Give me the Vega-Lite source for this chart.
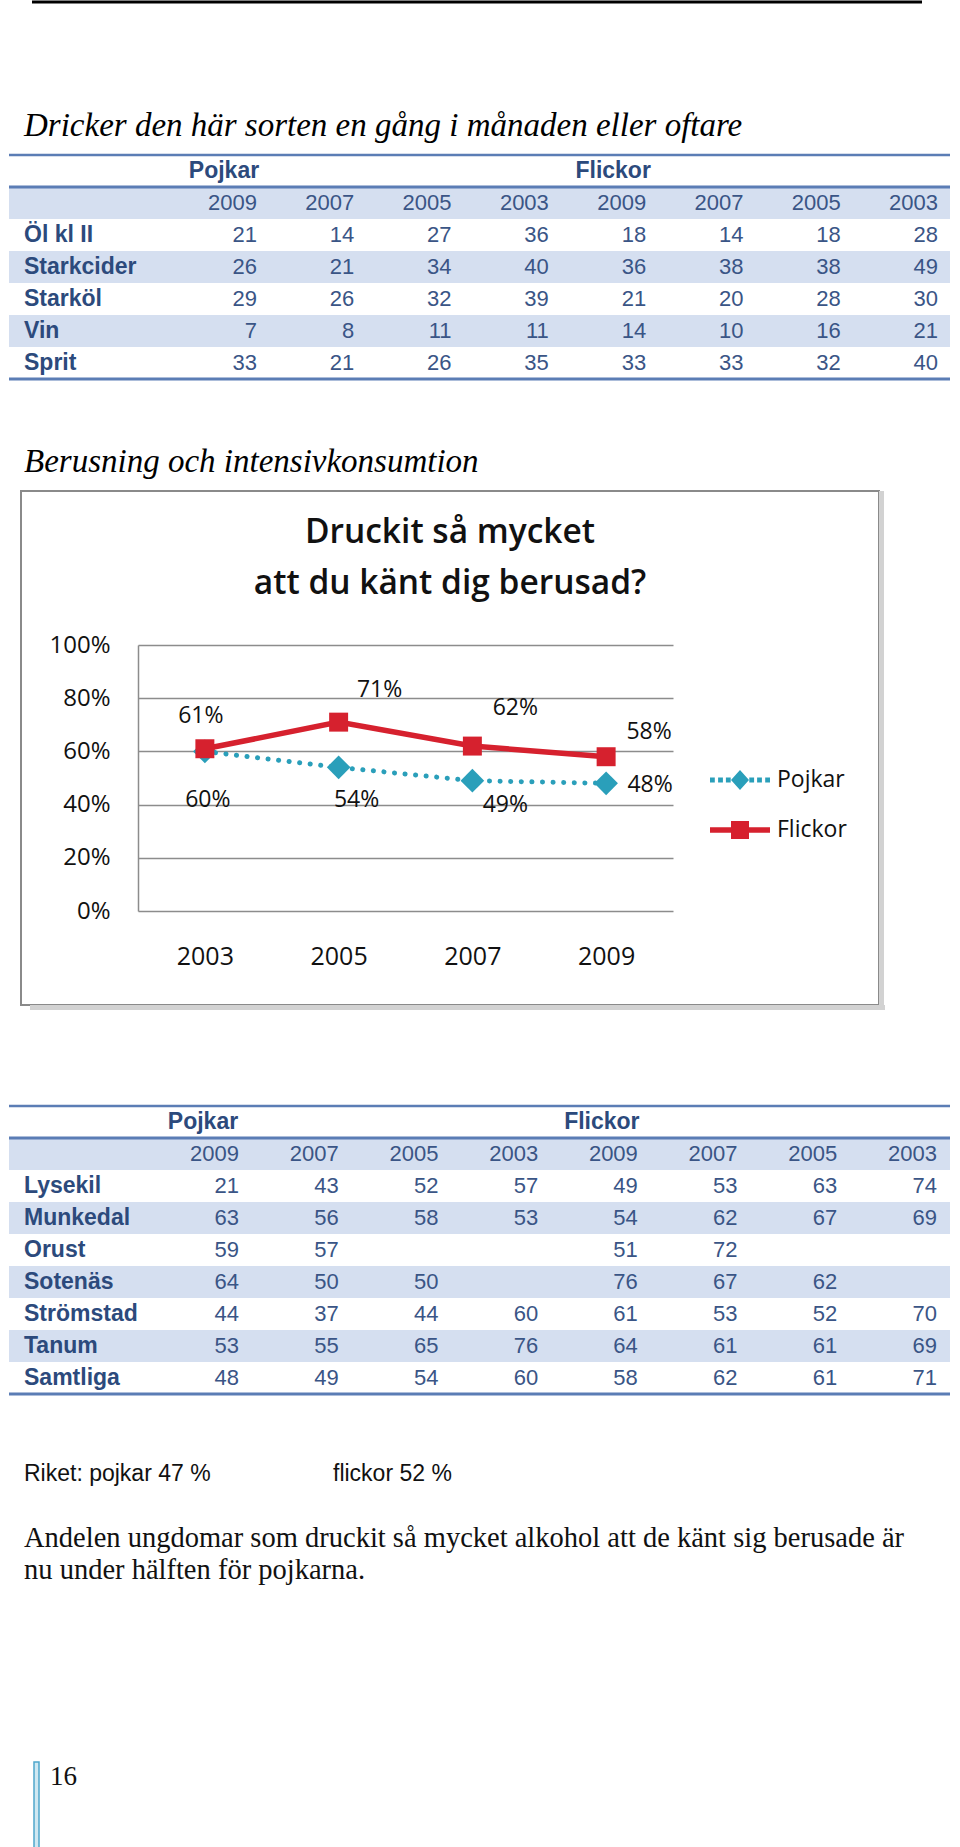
{
  "$schema": "https://vega.github.io/schema/vega-lite/v6.json",
  "background": "white",
  "padding": 0,
  "spacing": 0,
  "bounds": "flush",
  "columns": 2,
  "align": "each",
  "resolve": {"scale": {"color": "independent", "shape": "independent"}, "legend": {"color": "independent", "shape": "independent"}},
  "config": {"view": {"stroke": null}},
  "datasets": {
    "t1": [
      {"row": "Öl kl II", "P2009": 21, "P2007": 14, "P2005": 27, "P2003": 36, "F2009": 18, "F2007": 14, "F2005": 18, "F2003": 28},
      {"row": "Starkcider", "P2009": 26, "P2007": 21, "P2005": 34, "P2003": 40, "F2009": 36, "F2007": 38, "F2005": 38, "F2003": 49},
      {"row": "Starköl", "P2009": 29, "P2007": 26, "P2005": 32, "P2003": 39, "F2009": 21, "F2007": 20, "F2005": 28, "F2003": 30},
      {"row": "Vin", "P2009": 7, "P2007": 8, "P2005": 11, "P2003": 11, "F2009": 14, "F2007": 10, "F2005": 16, "F2003": 21},
      {"row": "Sprit", "P2009": 33, "P2007": 21, "P2005": 26, "P2003": 35, "F2009": 33, "F2007": 33, "F2005": 32, "F2003": 40}
    ],
    "t2": [
      {"row": "Lysekil", "P2009": 21, "P2007": 43, "P2005": 52, "P2003": 57, "F2009": 49, "F2007": 53, "F2005": 63, "F2003": 74},
      {"row": "Munkedal", "P2009": 63, "P2007": 56, "P2005": 58, "P2003": 53, "F2009": 54, "F2007": 62, "F2005": 67, "F2003": 69},
      {"row": "Orust", "P2009": 59, "P2007": 57, "F2009": 51, "F2007": 72},
      {"row": "Sotenäs", "P2009": 64, "P2007": 50, "P2005": 50, "F2009": 76, "F2007": 67, "F2005": 62},
      {"row": "Strömstad", "P2009": 44, "P2007": 37, "P2005": 44, "P2003": 60, "F2009": 61, "F2007": 53, "F2005": 52, "F2003": 70},
      {"row": "Tanum", "P2009": 53, "P2007": 55, "P2005": 65, "P2003": 76, "F2009": 64, "F2007": 61, "F2005": 61, "F2003": 69},
      {"row": "Samtliga", "P2009": 48, "P2007": 49, "P2005": 54, "P2003": 60, "F2009": 58, "F2007": 62, "F2005": 61, "F2003": 71}
    ],
    "cols": [
      {"col": "P2009", "yr": "2009", "grp": "Pojkar"},
      {"col": "P2007", "yr": "2007", "grp": "Pojkar"},
      {"col": "P2005", "yr": "2005", "grp": "Pojkar"},
      {"col": "P2003", "yr": "2003", "grp": "Pojkar"},
      {"col": "F2009", "yr": "2009", "grp": "Flickor"},
      {"col": "F2007", "yr": "2007", "grp": "Flickor"},
      {"col": "F2005", "yr": "2005", "grp": "Flickor"},
      {"col": "F2003", "yr": "2003", "grp": "Flickor"}
    ],
    "berusad": [
      {"year": 2003, "series": "Pojkar", "value": 0.60},
      {"year": 2005, "series": "Pojkar", "value": 0.54},
      {"year": 2007, "series": "Pojkar", "value": 0.49},
      {"year": 2009, "series": "Pojkar", "value": 0.48},
      {"year": 2003, "series": "Flickor", "value": 0.61},
      {"year": 2005, "series": "Flickor", "value": 0.71},
      {"year": 2007, "series": "Flickor", "value": 0.62},
      {"year": 2009, "series": "Flickor", "value": 0.58}
    ],
    "texts": [
      {"line": "riket", "c": "a", "t": "Riket: pojkar 47 %", "kind": "sans"},
      {"line": "riket", "c": "b", "t": "flickor 52 %", "kind": "sans"},
      {"line": "p1", "c": "a", "t": "Andelen ungdomar som druckit så mycket alkohol att de känt sig berusade är", "kind": "serif"},
      {"line": "p2", "c": "a", "t": "nu under hälften för pojkarna.", "kind": "serif"}
    ]
  },
  "concat": [
    {"width": 9, "height": 1, "data": {"values": []}, "mark": "point"},
    {
      "width": 941, "height": 153,
      "view": {"stroke": "#000000", "strokeWidth": 3, "strokeDash": [0, 23, 890, 6000]},
      "data": {"values": []},
      "mark": "point"
    },
    {"width": 9, "height": 1, "data": {"values": []}, "mark": "point"},
    {
      "width": 941, "height": 224,
      "title": {"text": "Dricker den här sorten en gång i månaden eller oftare", "anchor": "start", "frame": "group", "orient": "top", "offset": -15, "baseline": "alphabetic", "dx": 15, "font": "Liberation Serif", "fontStyle": "italic", "fontWeight": "normal", "fontSize": 33, "color": "#000000"},
      "layer": [
        {
          "data": {"values": [{}]},
          "mark": {"type": "rect", "color": "#d5dff0"},
          "encoding": {"y": {"datum": "yr", "type": "nominal", "scale": {"type": "band", "domain": ["h1", "yr", "Öl kl II", "Starkcider", "Starköl", "Vin", "Sprit"], "paddingInner": 0, "paddingOuter": 0}, "axis": null}}
        },
        {
          "data": {"name": "t1"},
          "transform": [{"filter": "datum.row == 'Starkcider' || datum.row == 'Vin'"}],
          "mark": {"type": "rect", "color": "#d5dff0"},
          "encoding": {"y": {"field": "row", "type": "nominal", "axis": null}}
        },
        {
          "data": {"values": [{}]},
          "mark": {"type": "rule", "color": "#5b7db5", "strokeWidth": 2.5},
          "encoding": {"y": {"datum": "h1", "type": "nominal", "bandPosition": 0, "axis": null}}
        },
        {
          "data": {"values": [{}]},
          "mark": {"type": "rule", "color": "#5b7db5", "strokeWidth": 3},
          "encoding": {"y": {"datum": "yr", "type": "nominal", "bandPosition": 0, "axis": null}}
        },
        {
          "data": {"values": [{}]},
          "mark": {"type": "rule", "color": "#5b7db5", "strokeWidth": 3},
          "encoding": {"y": {"datum": "Sprit", "type": "nominal", "bandPosition": 1, "axis": null}}
        },
        {
          "data": {"name": "cols"},
          "mark": {"type": "text", "align": "right", "font": "Liberation Sans", "fontSize": 22, "color": "#3a5586"},
          "encoding": {
            "x": {"field": "col", "type": "nominal", "scale": {"type": "point", "domain": ["P2009", "P2007", "P2005", "P2003", "F2009", "F2007", "F2005", "F2003"], "range": [248, 929], "padding": 0}, "axis": null},
            "y": {"datum": "yr", "type": "nominal", "axis": null},
            "text": {"field": "yr", "type": "nominal"}
          }
        },
        {
          "data": {"name": "cols"},
          "transform": [{"filter": "datum.col == 'P2009' || datum.col == 'F2009'"}],
          "mark": {"type": "text", "align": "center", "dx": -33, "font": "Liberation Sans", "fontWeight": "bold", "fontSize": 23, "color": "#2c4a7c"},
          "encoding": {
            "x": {"field": "col", "type": "nominal", "axis": null},
            "y": {"datum": "h1", "type": "nominal", "axis": null},
            "text": {"field": "grp", "type": "nominal"}
          }
        },
        {
          "data": {"name": "t1"},
          "mark": {"type": "text", "align": "left", "dx": -233, "font": "Liberation Sans", "fontWeight": "bold", "fontSize": 23, "color": "#2c4a7c"},
          "encoding": {
            "x": {"datum": "P2009", "type": "nominal", "axis": null},
            "y": {"field": "row", "type": "nominal", "axis": null},
            "text": {"field": "row", "type": "nominal"}
          }
        },
        {
          "data": {"name": "t1"},
          "transform": [{"fold": ["P2009", "P2007", "P2005", "P2003", "F2009", "F2007", "F2005", "F2003"], "as": ["col", "v"]}, {"filter": "isValid(datum.v)"}],
          "mark": {"type": "text", "align": "right", "font": "Liberation Sans", "fontSize": 22, "color": "#3a5586"},
          "encoding": {
            "x": {"field": "col", "type": "nominal", "axis": null},
            "y": {"field": "row", "type": "nominal", "axis": null},
            "text": {"field": "v", "type": "quantitative"}
          }
        }
      ]
    },
    {"width": 9, "height": 1, "data": {"values": []}, "mark": "point"},
    {"width": 941, "height": 112, "data": {"values": []}, "mark": "point"},
    {
      "width": 9, "height": 514, "data": {"values": []}, "mark": "point",
      "title": {"text": "Berusning och intensivkonsumtion", "anchor": "start", "frame": "group", "orient": "top", "offset": -14, "baseline": "alphabetic", "dx": 24, "font": "Liberation Serif", "fontStyle": "italic", "fontWeight": "normal", "fontSize": 33, "color": "#000000"}
    },
    {
      "spacing": 0,
      "bounds": "flush",
      "resolve": {"scale": {"color": "independent", "shape": "independent"}, "legend": {"color": "independent", "shape": "independent"}},
      "hconcat": [
        {"width": 12, "height": 514, "data": {"values": []}, "mark": "point"},
        {
          "width": 858, "height": 514,
          "view": {"stroke": "#8a8a8a", "strokeWidth": 2, "fill": "white"},
          "title": {"text": ["Druckit så mycket", "att du känt dig berusad?"], "anchor": "middle", "frame": "group", "orient": "top", "offset": -110, "baseline": "top", "lineHeight": 51, "font": "Open Sans", "fontSize": 33.5, "fontWeight": 600, "color": "#111111"},
          "data": {"name": "berusad"},
          "layer": [
            {
              "transform": [{"filter": "datum.series == 'Pojkar'"}],
              "mark": {"type": "line", "color": "#2a9fba", "strokeWidth": 5, "strokeDash": [0.1, 10.5], "strokeCap": "round"},
              "encoding": {
                "x": {"field": "year", "type": "quantitative", "scale": {"domain": [2002, 2010], "range": [117, 652]}, "axis": {"values": [2003, 2005, 2007, 2009], "format": "d", "offset": -94, "domain": false, "ticks": false, "grid": false, "labelFont": "Open Sans", "labelFontSize": 25, "labelColor": "#111111", "labelPadding": 33, "title": null}},
                "y": {"field": "value", "type": "quantitative", "scale": {"domain": [0, 1], "range": [420, 154]}, "axis": {"values": [0, 0.2, 0.4, 0.6, 0.8, 1], "format": ".0%", "offset": -117, "domain": true, "domainColor": "#8c8c8c", "domainWidth": 1.5, "ticks": false, "grid": true, "gridColor": "#8c8c8c", "gridWidth": 1.5, "labelFont": "Open Sans", "labelFontSize": 24, "labelColor": "#111111", "labelPadding": 28, "title": null}}
              }
            },
            {
              "transform": [{"filter": "datum.series == 'Pojkar'"}],
              "mark": {"type": "point", "shape": "diamond", "filled": true, "size": 560, "color": "#2a9fba", "opacity": 1},
              "encoding": {"x": {"field": "year", "type": "quantitative"}, "y": {"field": "value", "type": "quantitative"}}
            },
            {
              "transform": [{"filter": "datum.series == 'Flickor'"}],
              "mark": {"type": "line", "color": "#d6212e", "strokeWidth": 5.5},
              "encoding": {"x": {"field": "year", "type": "quantitative"}, "y": {"field": "value", "type": "quantitative"}}
            },
            {
              "transform": [{"filter": "datum.series == 'Flickor'"}],
              "mark": {"type": "point", "shape": "square", "filled": true, "size": 360, "color": "#d6212e", "opacity": 1},
              "encoding": {"x": {"field": "year", "type": "quantitative"}, "y": {"field": "value", "type": "quantitative"}}
            },
            {
              "mark": {"type": "point", "filled": true, "size": 0},
              "encoding": {
                "x": {"field": "year", "type": "quantitative"},
                "y": {"field": "value", "type": "quantitative"},
                "color": {"field": "series", "type": "nominal", "scale": {"domain": ["Pojkar", "Flickor"], "range": ["#2a9fba", "#d6212e"]}, "legend": {"title": null, "orient": "none", "legendX": 689, "legendY": 259, "direction": "vertical", "symbolSize": 3600, "symbolStrokeWidth": 0, "symbolOpacity": 1, "labelFont": "Open Sans", "labelFontSize": 23, "labelColor": "#111111", "labelOffset": 7, "rowPadding": 8, "padding": 0}},
                "shape": {"field": "series", "type": "nominal", "scale": {"domain": ["Pojkar", "Flickor"], "range": ["M-1,-0.08h0.16v0.16h-0.16Z M-0.73,-0.08h0.16v0.16h-0.16Z M-0.47,-0.08h0.16v0.16h-0.16Z M0,-0.33L0.3,0L0,0.33L-0.3,0Z M0.31,-0.08h0.16v0.16h-0.16Z M0.57,-0.08h0.16v0.16h-0.16Z M0.84,-0.08h0.16v0.16h-0.16Z", "M-1,-0.09H1V0.09H-1Z M-0.3,-0.3H0.3V0.3H-0.3Z"]}, "legend": {"title": null, "orient": "none", "legendX": 689, "legendY": 259, "direction": "vertical", "symbolSize": 3600, "symbolStrokeWidth": 0, "symbolOpacity": 1, "labelFont": "Open Sans", "labelFontSize": 23, "labelColor": "#111111", "labelOffset": 7, "rowPadding": 8, "padding": 0}}
              }
            },
            {
              "transform": [{"filter": "datum.series == 'Flickor' && datum.year == 2003"}],
              "mark": {"type": "text", "dx": -4, "dy": -33, "font": "Open Sans", "fontSize": 23, "color": "#111111"},
              "encoding": {"x": {"field": "year", "type": "quantitative"}, "y": {"field": "value", "type": "quantitative"}, "text": {"field": "value", "type": "quantitative", "format": ".0%"}}
            },
            {
              "transform": [{"filter": "datum.series == 'Flickor' && datum.year == 2005"}],
              "mark": {"type": "text", "dx": 41, "dy": -32, "font": "Open Sans", "fontSize": 23, "color": "#111111"},
              "encoding": {"x": {"field": "year", "type": "quantitative"}, "y": {"field": "value", "type": "quantitative"}, "text": {"field": "value", "type": "quantitative", "format": ".0%"}}
            },
            {
              "transform": [{"filter": "datum.series == 'Flickor' && datum.year == 2007"}],
              "mark": {"type": "text", "dx": 43, "dy": -38, "font": "Open Sans", "fontSize": 23, "color": "#111111"},
              "encoding": {"x": {"field": "year", "type": "quantitative"}, "y": {"field": "value", "type": "quantitative"}, "text": {"field": "value", "type": "quantitative", "format": ".0%"}}
            },
            {
              "transform": [{"filter": "datum.series == 'Flickor' && datum.year == 2009"}],
              "mark": {"type": "text", "dx": 43, "dy": -25, "font": "Open Sans", "fontSize": 23, "color": "#111111"},
              "encoding": {"x": {"field": "year", "type": "quantitative"}, "y": {"field": "value", "type": "quantitative"}, "text": {"field": "value", "type": "quantitative", "format": ".0%"}}
            },
            {
              "transform": [{"filter": "datum.series == 'Pojkar' && datum.year == 2003"}],
              "mark": {"type": "text", "dx": 3, "dy": 49, "font": "Open Sans", "fontSize": 23, "color": "#111111"},
              "encoding": {"x": {"field": "year", "type": "quantitative"}, "y": {"field": "value", "type": "quantitative"}, "text": {"field": "value", "type": "quantitative", "format": ".0%"}}
            },
            {
              "transform": [{"filter": "datum.series == 'Pojkar' && datum.year == 2005"}],
              "mark": {"type": "text", "dx": 18, "dy": 33, "font": "Open Sans", "fontSize": 23, "color": "#111111"},
              "encoding": {"x": {"field": "year", "type": "quantitative"}, "y": {"field": "value", "type": "quantitative"}, "text": {"field": "value", "type": "quantitative", "format": ".0%"}}
            },
            {
              "transform": [{"filter": "datum.series == 'Pojkar' && datum.year == 2007"}],
              "mark": {"type": "text", "dx": 33, "dy": 24, "font": "Open Sans", "fontSize": 23, "color": "#111111"},
              "encoding": {"x": {"field": "year", "type": "quantitative"}, "y": {"field": "value", "type": "quantitative"}, "text": {"field": "value", "type": "quantitative", "format": ".0%"}}
            },
            {
              "transform": [{"filter": "datum.series == 'Pojkar' && datum.year == 2009"}],
              "mark": {"type": "text", "dx": 44, "dy": 2, "font": "Open Sans", "fontSize": 23, "color": "#111111"},
              "encoding": {"x": {"field": "year", "type": "quantitative"}, "y": {"field": "value", "type": "quantitative"}, "text": {"field": "value", "type": "quantitative", "format": ".0%"}}
            }
          ]
        },
        {"width": 5, "height": 514, "view": {"fill": "#d2d2d2"}, "data": {"values": []}, "mark": "point"}
      ]
    },
    {"width": 9, "height": 5, "data": {"values": []}, "mark": "point"},
    {
      "spacing": 0,
      "bounds": "flush",
      "hconcat": [
        {"width": 21, "height": 5, "data": {"values": []}, "mark": "point"},
        {"width": 855, "height": 5, "view": {"fill": "#d2d2d2"}, "data": {"values": []}, "mark": "point"}
      ]
    },
    {"width": 9, "height": 1, "data": {"values": []}, "mark": "point"},
    {"width": 941, "height": 96, "data": {"values": []}, "mark": "point"},
    {"width": 9, "height": 1, "data": {"values": []}, "mark": "point"},
    {
      "width": 941, "height": 288,
      "layer": [
        {
          "data": {"values": [{}]},
          "mark": {"type": "rect", "color": "#d5dff0"},
          "encoding": {"y": {"datum": "yr", "type": "nominal", "scale": {"type": "band", "domain": ["h1", "yr", "Lysekil", "Munkedal", "Orust", "Sotenäs", "Strömstad", "Tanum", "Samtliga"], "paddingInner": 0, "paddingOuter": 0}, "axis": null}}
        },
        {
          "data": {"name": "t2"},
          "transform": [{"filter": "datum.row == 'Munkedal' || datum.row == 'Sotenäs' || datum.row == 'Tanum'"}],
          "mark": {"type": "rect", "color": "#d5dff0"},
          "encoding": {"y": {"field": "row", "type": "nominal", "axis": null}}
        },
        {
          "data": {"values": [{}]},
          "mark": {"type": "rule", "color": "#5b7db5", "strokeWidth": 2.5},
          "encoding": {"y": {"datum": "h1", "type": "nominal", "bandPosition": 0, "axis": null}}
        },
        {
          "data": {"values": [{}]},
          "mark": {"type": "rule", "color": "#5b7db5", "strokeWidth": 3},
          "encoding": {"y": {"datum": "yr", "type": "nominal", "bandPosition": 0, "axis": null}}
        },
        {
          "data": {"values": [{}]},
          "mark": {"type": "rule", "color": "#5b7db5", "strokeWidth": 3},
          "encoding": {"y": {"datum": "Samtliga", "type": "nominal", "bandPosition": 1, "axis": null}}
        },
        {
          "data": {"name": "cols"},
          "mark": {"type": "text", "align": "right", "font": "Liberation Sans", "fontSize": 22, "color": "#3a5586"},
          "encoding": {
            "x": {"field": "col", "type": "nominal", "scale": {"type": "point", "domain": ["P2009", "P2007", "P2005", "P2003", "F2009", "F2007", "F2005", "F2003"], "range": [230, 928], "padding": 0}, "axis": null},
            "y": {"datum": "yr", "type": "nominal", "axis": null},
            "text": {"field": "yr", "type": "nominal"}
          }
        },
        {
          "data": {"name": "cols"},
          "transform": [{"filter": "datum.col == 'P2009' || datum.col == 'F2009'"}],
          "mark": {"type": "text", "align": "center", "dx": -36, "font": "Liberation Sans", "fontWeight": "bold", "fontSize": 23, "color": "#2c4a7c"},
          "encoding": {
            "x": {"field": "col", "type": "nominal", "axis": null},
            "y": {"datum": "h1", "type": "nominal", "axis": null},
            "text": {"field": "grp", "type": "nominal"}
          }
        },
        {
          "data": {"name": "t2"},
          "mark": {"type": "text", "align": "left", "dx": -215, "font": "Liberation Sans", "fontWeight": "bold", "fontSize": 23, "color": "#2c4a7c"},
          "encoding": {
            "x": {"datum": "P2009", "type": "nominal", "axis": null},
            "y": {"field": "row", "type": "nominal", "axis": null},
            "text": {"field": "row", "type": "nominal"}
          }
        },
        {
          "data": {"name": "t2"},
          "transform": [{"fold": ["P2009", "P2007", "P2005", "P2003", "F2009", "F2007", "F2005", "F2003"], "as": ["col", "v"]}, {"filter": "isValid(datum.v)"}],
          "mark": {"type": "text", "align": "right", "font": "Liberation Sans", "fontSize": 22, "color": "#3a5586"},
          "encoding": {
            "x": {"field": "col", "type": "nominal", "axis": null},
            "y": {"field": "row", "type": "nominal", "axis": null},
            "text": {"field": "v", "type": "quantitative"}
          }
        }
      ]
    },
    {"width": 9, "height": 1, "data": {"values": []}, "mark": "point"},
    {"width": 941, "height": 64, "data": {"values": []}, "mark": "point"},
    {"width": 9, "height": 1, "data": {"values": []}, "mark": "point"},
    {
      "width": 941, "height": 128,
      "data": {"name": "texts"},
      "layer": [
        {
          "transform": [{"filter": "datum.kind == 'sans'"}],
          "mark": {"type": "text", "align": "left", "font": "Liberation Sans", "fontSize": 23, "color": "#111111"},
          "encoding": {
            "x": {"field": "c", "type": "nominal", "scale": {"type": "point", "domain": ["a", "b"], "range": [15, 324], "padding": 0}, "axis": null},
            "y": {"field": "line", "type": "nominal", "scale": {"type": "band", "domain": ["riket", "blank", "p1", "p2"], "paddingInner": 0, "paddingOuter": 0}, "axis": null},
            "text": {"field": "t", "type": "nominal"}
          }
        },
        {
          "transform": [{"filter": "datum.kind == 'serif'"}],
          "mark": {"type": "text", "align": "left", "font": "Liberation Serif", "fontSize": 28.5, "color": "#111111"},
          "encoding": {
            "x": {"field": "c", "type": "nominal", "axis": null},
            "y": {"field": "line", "type": "nominal", "axis": null},
            "text": {"field": "t", "type": "nominal"}
          }
        }
      ]
    },
    {"width": 9, "height": 1, "data": {"values": []}, "mark": "point"},
    {"width": 941, "height": 176, "data": {"values": []}, "mark": "point"},
    {"width": 9, "height": 87, "data": {"values": []}, "mark": "point"},
    {
      "spacing": 0,
      "bounds": "flush",
      "hconcat": [
        {"width": 25, "height": 87, "data": {"values": []}, "mark": "point"},
        {
          "width": 5, "height": 87,
          "view": {"fill": "#cfe8f2", "stroke": "#4fa7cb", "strokeWidth": 1.5},
          "title": {"text": "16", "orient": "right", "anchor": "start", "frame": "group", "angle": 0, "align": "left", "baseline": "top", "offset": -16, "dy": 2, "font": "Liberation Serif", "fontWeight": "normal", "fontSize": 27, "color": "#111111"},
          "data": {"values": []},
          "mark": "point"
        }
      ]
    }
  ]
}
